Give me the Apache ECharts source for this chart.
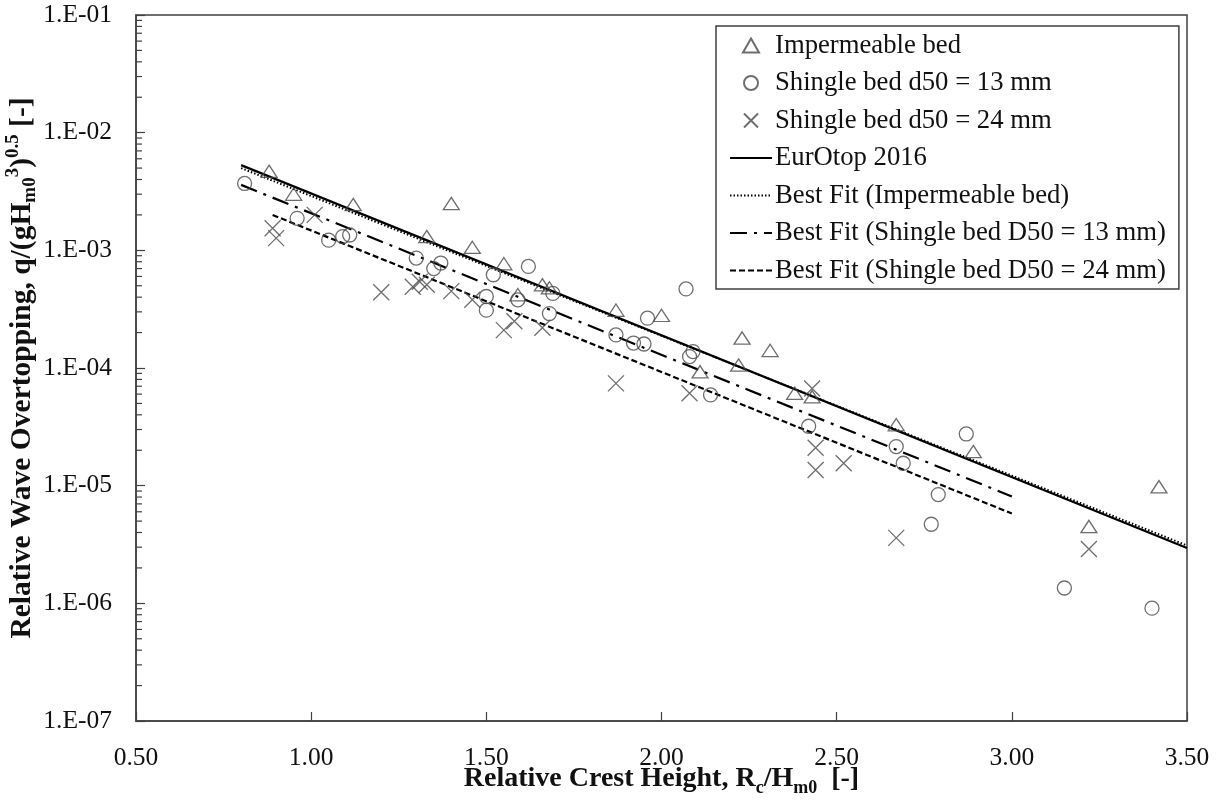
<!DOCTYPE html>
<html>
<head>
<meta charset="utf-8">
<script src="https://cdn.jsdelivr.net/npm/echarts@6/dist/echarts.min.js"></script>
<style>
html,body{margin:0;padding:0;background:#fff;}
#chart{width:1224px;height:803px;}
</style>
</head>
<body>
<div id="chart"></div>
<script>
// ---- data ----
const impX = [0.88,0.95,1.12,1.40,1.33,1.46,1.55,1.66,1.68,1.59,1.87,2.00,2.11,2.23,2.31,2.22,2.38,2.43,2.67,2.89,3.22,3.42];
const impY = [4.7e-3,3.0e-3,2.45e-3,2.5e-3,1.31e-3,1.06e-3,7.7e-4,5.1e-4,4.8e-4,4.2e-4,3.1e-4,2.8e-4,9.3e-5,1.8e-4,1.41e-4,1.06e-4,6.1e-5,5.7e-5,3.3e-5,1.95e-5,4.5e-6,9.8e-6];

const sh13X = [0.81,0.96,1.05,1.09,1.11,1.30,1.35,1.37,1.52,1.50,1.50,1.59,1.62,1.69,1.68,1.87,1.92,1.95,1.96,2.07,2.08,2.09,2.14,2.42,2.67,2.69,2.87,2.79,2.77,3.15,3.40];
const sh13Y = [3.7e-3,1.87e-3,1.22e-3,1.31e-3,1.35e-3,8.6e-4,7.0e-4,7.8e-4,6.2e-4,4.05e-4,3.1e-4,3.8e-4,7.3e-4,4.3e-4,2.9e-4,1.91e-4,1.63e-4,1.6e-4,2.65e-4,4.7e-4,1.25e-4,1.38e-4,5.9e-5,3.2e-5,2.15e-5,1.55e-5,2.75e-5,8.4e-6,4.7e-6,1.35e-6,9.1e-7];

const sh24X = [0.89,0.90,1.01,1.20,1.29,1.31,1.33,1.40,1.46,1.55,1.58,1.66,1.87,2.08,2.43,2.44,2.44,2.52,2.67,3.22];
const sh24Y = [1.54e-3,1.27e-3,2.0e-3,4.4e-4,4.9e-4,5.4e-4,5.1e-4,4.5e-4,3.8e-4,2.1e-4,2.5e-4,2.2e-4,7.4e-5,6.1e-5,6.7e-5,2.1e-5,1.36e-5,1.55e-5,3.6e-6,2.9e-6];

const eurX = [0.80,3.50];
const eurY = [5.3e-3,2.95e-6];
const fitImpX = [0.80,3.50];
const fitImpY = [5.0e-3,3.1e-6];
const fit13X = [0.80,3.00];
const fit13Y = [3.6e-3,8.1e-6];
const fit24X = [0.89,3.00];
const fit24Y = [2.0e-3,5.8e-6];

const xTicks = [0.5,1.0,1.5,2.0,2.5,3.0,3.5];
const yTickLabels = ['1.E-07','1.E-06','1.E-05','1.E-04','1.E-03','1.E-02','1.E-01'];
const legendNames = ['Impermeable bed','Shingle bed d50 = 13 mm','Shingle bed d50 = 24 mm','EurOtop 2016','Best Fit (Impermeable bed)','Best Fit (Shingle bed D50 = 13 mm)','Best Fit (Shingle bed D50 = 24 mm)'];

// ---- helpers ----
const zip = (xs, ys) => xs.map((x, i) => [x, ys[i]]);
const FONT = 'Liberation Serif';
const AX = '#404040';
const MK = '#4a4a4a';

const minorTicks = [];
for (let e = -7; e <= -2; e++) {
  for (let k = 2; k <= 9; k++) minorTicks.push([xTicks[0], k * Math.pow(10, e)]);
}

const chart = echarts.init(document.getElementById('chart'), null, {renderer: 'canvas'});

const hollow = {color: 'rgba(0,0,0,0)', borderColor: MK, borderWidth: 1.3};
const noSym = {color: 'rgba(0,0,0,0)', borderColor: 'rgba(0,0,0,0)', borderWidth: 0, opacity: 0};

const option = {
  backgroundColor: '#fff',
  animation: false,
  grid: {left: 136, right: 37, top: 15, bottom: 82, show: true, borderColor: AX, borderWidth: 1.5,
         backgroundColor: 'transparent', containLabel: false, outerBoundsMode: 'none'},
  xAxis: {
    type: 'value', min: 0.5, max: 3.5, interval: 0.5,
    axisLine: {show: true, lineStyle: {color: AX, width: 1.5}},
    axisTick: {show: true, inside: true, length: 9, lineStyle: {color: AX, width: 1.2}},
    splitLine: {show: false},
    axisLabel: {margin: 24, color: '#111', fontFamily: FONT, fontSize: 25.5, formatter: v => v.toFixed(2)},
    name: '{m|Relative Crest Height, R}{s|c}{m|/H}{s|m0}{m|  [-]}',
    nameLocation: 'middle', nameGap: 40, nameMoveOverlap: false,
    nameTextStyle: {
      fontFamily: FONT, fontWeight: 'bold', color: '#111',
      rich: {
        m: {fontFamily: FONT, fontWeight: 'bold', fontSize: 28, lineHeight: 36, verticalAlign: 'middle', color: '#111'},
        s: {fontFamily: FONT, fontWeight: 'bold', fontSize: 18, lineHeight: 18, verticalAlign: 'bottom', color: '#111'}
      }
    }
  },
  yAxis: {
    type: 'log', logBase: 10, min: 1e-7, max: 1e-1, splitNumber: 6,
    axisLine: {show: true, lineStyle: {color: AX, width: 1.5}},
    axisTick: {show: true, inside: true, length: 9, lineStyle: {color: AX, width: 1.2}},
    splitLine: {show: false},
    axisLabel: {
      margin: 24, color: '#111', fontFamily: FONT, fontSize: 25.5,
      formatter: v => {
        const e = Math.round(Math.log10(v));
        return yTickLabels[e + 7];
      }
    },
    name: '{m|Relative Wave Overtopping, q/(gH}{s|m0}{p|3}{m|)}{p|0.5}{m| [-]}',
    nameLocation: 'middle', nameGap: 96, nameRotate: 90, nameMoveOverlap: false,
    nameTextStyle: {
      fontFamily: FONT, fontWeight: 'bold', color: '#111',
      rich: {
        m: {fontFamily: FONT, fontWeight: 'bold', fontSize: 29.5, lineHeight: 36, verticalAlign: 'middle', color: '#111'},
        s: {fontFamily: FONT, fontWeight: 'bold', fontSize: 19, lineHeight: 19, verticalAlign: 'bottom', color: '#111'},
        p: {fontFamily: FONT, fontWeight: 'bold', fontSize: 19, lineHeight: 19, verticalAlign: 'top', color: '#111'}
      }
    }
  },
  legend: {
    data: legendNames,
    orient: 'vertical',
    left: 716, top: 26,
    padding: [6, 13, 5, 13],
    itemGap: 10.5,
    itemWidth: 42, itemHeight: 14,
    backgroundColor: '#fff',
    borderColor: AX, borderWidth: 1.5, borderRadius: 0,
    textStyle: {fontFamily: FONT, fontSize: 26.7, lineHeight: 26, color: '#111', padding: [0, 0, 0, -2]},
    selectedMode: false
  },
  series: [
    {
      name: legendNames[3], type: 'line', data: zip(eurX, eurY), symbol: 'none', itemStyle: noSym,
      lineStyle: {color: '#000', width: 2.2, type: 'solid'}, z: 3
    },
    {
      name: legendNames[4], type: 'line', data: zip(fitImpX, fitImpY), symbol: 'none', itemStyle: noSym,
      lineStyle: {color: '#000', width: 2, type: [1.5, 2]}, z: 3
    },
    {
      name: legendNames[5], type: 'line', data: zip(fit13X, fit13Y), symbol: 'none', itemStyle: noSym,
      lineStyle: {color: '#000', width: 2.2, type: [17, 7, 3, 7]}, z: 3
    },
    {
      name: legendNames[6], type: 'line', data: zip(fit24X, fit24Y), symbol: 'none', itemStyle: noSym,
      lineStyle: {color: '#000', width: 2.2, type: [6, 3]}, z: 3
    },
    {
      name: legendNames[0], type: 'scatter', data: zip(impX, impY),
      symbol: 'path://M8,0L16,14L0,14Z', symbolKeepAspect: true, symbolSize: [16, 14], itemStyle: hollow, z: 4
    },
    {
      name: legendNames[1], type: 'scatter', data: zip(sh13X, sh13Y),
      symbol: 'circle', symbolKeepAspect: true, symbolSize: 14, itemStyle: hollow, z: 4
    },
    {
      name: legendNames[2], type: 'scatter', data: zip(sh24X, sh24Y),
      symbol: 'path://M0,0L10,10M10,0L0,10', symbolKeepAspect: true, symbolSize: 16, itemStyle: hollow, z: 4
    },
    {
      type: 'custom', silent: true, data: minorTicks, z: 5,
      renderItem: (params, api) => {
        const p = api.coord([api.value(0), api.value(1)]);
        return {type: 'line', shape: {x1: p[0], y1: p[1], x2: p[0] + 6, y2: p[1]}, style: {stroke: AX, lineWidth: 1.2}};
      }
    }
  ]
};
chart.setOption(option);
</script>
</body>
</html>
